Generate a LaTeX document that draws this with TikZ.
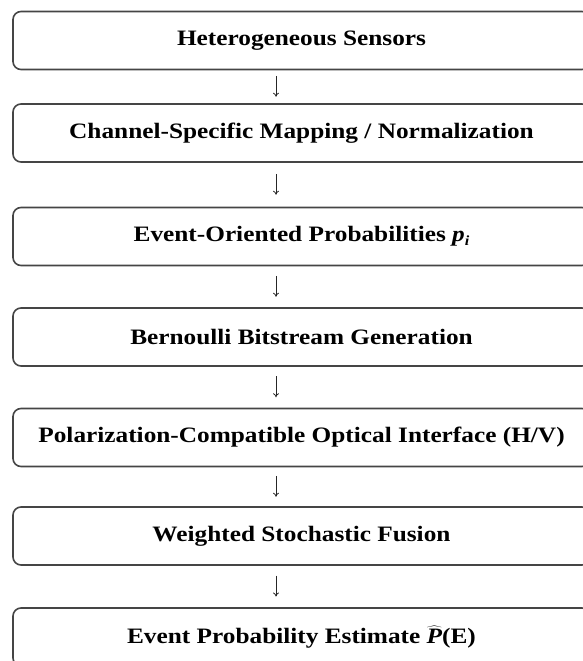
\documentclass[tikz,border=0pt]{standalone}
\usepackage{fontspec}
\setmainfont{Liberation Serif}[FakeStretch=1.15]
\usetikzlibrary{arrows.meta,calc}
\definecolor{boxline}{HTML}{454545}
\begin{document}
\begin{tikzpicture}[x=1pt,y=-1pt,
  stage/.style={draw=boxline, line width=1.6pt, rounded corners=8pt,
    minimum width=577pt, minimum height=58pt, inner sep=0pt,
    font=\fontsize{22}{26}\selectfont\bfseries, text=black},
  flow/.style={draw=black!85, line width=0.8pt, -{To[length=4pt,width=6pt]}}]
\useasboundingbox (0,0) rectangle (582,661);
\node[stage] (b1) at (301.5,40.5) {Heterogeneous Sensors};
\node[stage] (b2) at (301.5,133) {Channel-Specific Mapping / Normalization};
\node[stage] (b3) at (301.5,236.5) {Event-Oriented Probabilities {\itshape p}\raisebox{-0.35ex}{\fontsize{14}{14}\selectfont\itshape i}};
\node[stage] (b4) at (301.5,337) {Bernoulli Bitstream Generation};
\node[stage] (b5) at (301.5,437.5) {Polarization-Compatible Optical Interface (H/V)};
\node[stage] (b6) at (301.5,536) {Weighted Stochastic Fusion};
\node[stage] (b7) at (301.5,637) {Event Probability Estimate $\widehat{\hbox{\bfseries\itshape P}}$(E)};
\foreach \a/\b in {b1/b2,b2/b3,b3/b4,b4/b5,b5/b6,b6/b7}{
  \draw[flow] ($($(\a.south)!0.5!(\b.north)$)+(-25.5,-11)$) -- ($($(\a.south)!0.5!(\b.north)$)+(-25.5,10)$);
}
\end{tikzpicture}
\end{document}
